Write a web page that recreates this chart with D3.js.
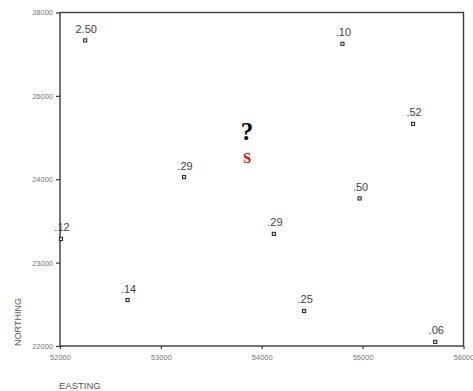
<!DOCTYPE html>
<html>
<head>
<meta charset="utf-8">
<script src="https://cdn.jsdelivr.net/npm/d3@7"></script>
<style>
  html, body { margin: 0; padding: 0; background: #fff; }
  svg { display: block; }
</style>
</head>
<body>
<svg id="chart" width="473" height="391"></svg>
<script>
// Sample sites: easting, northing and the measured value at each
const eastings  = [52250, 54800, 55500, 53230, 54970, 54120, 52010, 52670, 54420, 55720];
const northings = [27330, 27250, 25330, 24050, 23770, 23345, 23285, 22550, 22420, 22050];
const values    = ["2.50", ".10", ".52", ".29", ".50", ".29", ".12", ".14", ".25", ".06"];

// Axis ticks (the northing axis is spaced unevenly, so it uses a piecewise scale)
const xTicks = [52000, 53000, 54000, 55000, 56000];
const yTicks = [22000, 23000, 24000, 26000, 28000];

// Unknown site marker
const unknownSite = { easting: 53855, northing: 24935 };

const svg = d3.select("#chart");
const plotLeft = 60, plotRight = 463.5, plotTop = 12.5, plotBottom = 346;

const x = d3.scaleLinear().domain([52000, 56000]).range([plotLeft, plotRight]);
const y = d3.scaleLinear()
  .domain(yTicks)
  .range(yTicks.map((d, i) => plotBottom - i * (plotBottom - plotTop) / (yTicks.length - 1)));

// Frame
svg.append("rect")
  .attr("x", plotLeft).attr("y", plotTop)
  .attr("width", plotRight - plotLeft).attr("height", plotBottom - plotTop)
  .attr("fill", "none").attr("stroke", "#3a3a3a").attr("stroke-width", 1.4);

// X axis
const xAxis = svg.append("g")
  .attr("transform", `translate(0,${plotBottom})`)
  .call(d3.axisBottom(x).tickValues(xTicks).tickSize(3).tickPadding(6).tickFormat(d3.format("d")));
xAxis.select(".domain").remove();
xAxis.selectAll("line").attr("stroke", "#3a3a3a").attr("stroke-width", 1.2);
xAxis.selectAll("text")
  .attr("fill", "#777").style("font-family", "Liberation Sans, Arial, sans-serif").style("font-size", "7.5px");

// Y axis
const yAxis = svg.append("g")
  .attr("transform", `translate(${plotLeft},0)`)
  .call(d3.axisLeft(y).tickValues(yTicks).tickSize(4).tickPadding(3).tickFormat(d3.format("d")));
yAxis.select(".domain").remove();
yAxis.selectAll("line").attr("stroke", "#3a3a3a").attr("stroke-width", 1.2);
yAxis.selectAll("text")
  .attr("fill", "#777").style("font-family", "Liberation Sans, Arial, sans-serif").style("font-size", "7.5px");

// Axis titles
svg.append("text")
  .attr("x", 59).attr("y", 389)
  .attr("fill", "#555")
  .style("font-family", "Liberation Sans, Arial, sans-serif").style("font-size", "9.5px")
  .text("EASTING");

svg.append("text")
  .attr("transform", "translate(21,322) rotate(-90)")
  .attr("text-anchor", "middle")
  .attr("fill", "#555")
  .style("font-family", "Liberation Sans, Arial, sans-serif").style("font-size", "9px")
  .text("NORTHING");

// Sites
const sites = eastings.map((e, i) => ({ e, n: northings[i], v: values[i] }));

const g = svg.append("g");
g.selectAll("rect.site")
  .data(sites)
  .join("rect")
  .attr("class", "site")
  .attr("x", d => x(d.e) - 1.6).attr("y", d => y(d.n) - 1.6)
  .attr("width", 3.2).attr("height", 3.2)
  .attr("fill", "#ddd").attr("stroke", "#111").attr("stroke-width", 0.9);

g.selectAll("text.value")
  .data(sites)
  .join("text")
  .attr("class", "value")
  .attr("x", d => x(d.e) + 1).attr("y", d => y(d.n) - 7.5)
  .attr("text-anchor", "middle")
  .attr("fill", "#444")
  .style("font-family", "Liberation Sans, Arial, sans-serif").style("font-size", "11px")
  .text(d => d.v);

// Unknown site: question mark with red S beneath
const ux = x(unknownSite.easting), uy = y(unknownSite.northing);
svg.append("text")
  .attr("x", ux).attr("y", uy)
  .attr("text-anchor", "middle")
  .attr("fill", "#000")
  .style("font-family", "Liberation Serif, Times New Roman, serif")
  .style("font-weight", "bold").style("font-size", "25px")
  .text("?");
svg.append("text")
  .attr("x", ux).attr("y", uy + 23)
  .attr("text-anchor", "middle")
  .attr("fill", "#ff0000")
  .style("font-family", "Liberation Serif, Times New Roman, serif")
  .style("font-weight", "bold").style("font-size", "15px")
  .text("S");
</script>
</body>
</html>
